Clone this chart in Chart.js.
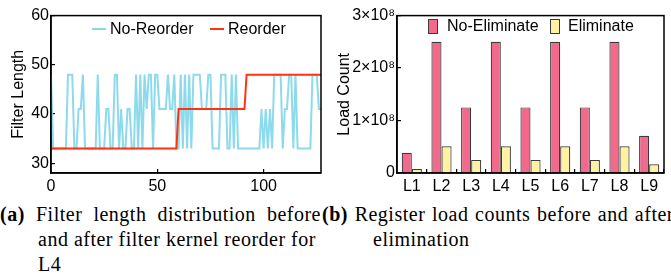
<!DOCTYPE html>
<html><head><meta charset="utf-8">
<script src="https://cdn.jsdelivr.net/npm/chart.js@4/dist/chart.umd.min.js"></script>
<style>
html,body{margin:0;padding:0;background:#fff;}
body{width:671px;height:279px;position:relative;overflow:hidden;font-family:"Liberation Serif","Times New Roman",serif;color:#000;}
#c1{position:absolute;left:0;top:0;}
#c2{position:absolute;left:335px;top:0;}
.cap{position:absolute;font-size:20px;letter-spacing:0.5px;white-space:nowrap;line-height:24px;}
.j{text-align:justify;text-align-last:justify;}
.lg{position:absolute;font-family:"Liberation Sans",Arial,sans-serif;font-size:16px;line-height:18px;white-space:nowrap;color:#000;}
.ln{position:absolute;height:2px;}
.bx{position:absolute;width:8px;height:13px;border:1px solid #3c3c3c;}
</style></head><body>
<canvas id="c1" width="335" height="195"></canvas>
<canvas id="c2" width="336" height="195"></canvas>
<!-- legends -->
<div class="ln" style="left:92px;top:28px;width:14px;background:rgba(128,214,234,0.95);"></div>
<div class="lg" style="left:110px;top:20px;">No-Reorder</div>
<div class="ln" style="left:210px;top:28px;width:14px;background:#FF3311;"></div>
<div class="lg" style="left:228px;top:20px;">Reorder</div>
<div class="bx" style="left:428px;top:19px;background:#F2698B;"></div>
<div class="lg" style="left:447px;top:17px;">No-Eliminate</div>
<div class="bx" style="left:550px;top:19px;background:#FFF2A2;"></div>
<div class="lg" style="left:568px;top:17px;">Eliminate</div>
<!-- captions -->
<div class="cap j" style="left:0;top:202px;width:321px;"><b>(a)</b> Filter length distribution before</div>
<div class="cap" style="left:38px;top:227px;">and after filter kernel reorder for</div>
<div class="cap" style="left:38px;top:252px;">L4</div>
<div class="cap j" style="left:322px;top:202px;width:352px;"><b>(b)</b> Register load counts before and after</div>
<div class="cap" style="left:373px;top:227px;">elimination</div>
<script>
// ---- Left chart data: filter length per kernel index ----
const noReorder = [
  48,33,33,33,33,33,33,33,48,48,
  48,33,33,41,41,48,33,33,33,33,
  33,33,48,33,33,33,41,41,33,33,
  48,48,33,41,33,33,41,41,33,33,
  48,33,48,33,48,41,48,48,33,48,
  48,41,41,41,41,48,41,41,48,33,
  33,48,33,48,33,48,33,48,48,48,
  48,41,41,41,48,48,33,33,33,33,
  48,48,48,33,33,48,33,48,33,33,
  33,33,33,33,33,33,33,33,33,41,
  33,41,33,41,33,48,48,48,48,33,
  41,41,48,48,33,48,33,33,33,33,
  33,33,33,48,48,48,41,41
];
const reorder = [
  33,33,33,33,33,33,33,33,33,33,
  33,33,33,33,33,33,33,33,33,33,
  33,33,33,33,33,33,33,33,33,33,
  33,33,33,33,33,33,33,33,33,33,
  33,33,33,33,33,33,33,33,33,33,
  33,33,33,33,33,33,33,33,33,33,
  41,41,41,41,41,41,41,41,41,41,
  41,41,41,41,41,41,41,41,41,41,
  41,41,41,41,41,41,41,41,41,41,
  41,41,48,48,48,48,48,48,48,48,
  48,48,48,48,48,48,48,48,48,48,
  48,48,48,48,48,48,48,48,48,48,
  48,48,48,48,48,48,48,48
];
const lineXTicks = [0, 50, 100];
const lineYTicks = [30, 40, 50, 60];

// ---- Right chart data: register load counts ----
const layers = ['L1','L2','L3','L4','L5','L6','L7','L8','L9'];
const noEliminate = [3.85e7, 2.5e8, 1.25e8, 2.5e8, 1.25e8, 2.5e8, 1.25e8, 2.5e8, 7.1e7];
const eliminate   = [0.75e7, 5.1e7, 2.5e7, 5.1e7, 2.5e7, 5.1e7, 2.5e7, 5.1e7, 1.65e7];
const barYTicks = [0, 1e8, 2e8, 3e8];
const barYTickLabels = ['0', '1×10⁸', '2×10⁸', '3×10⁸'];

const SANS = '"Liberation Sans", Arial, sans-serif';
const frame = {
  id: 'frame',
  afterDatasetsDraw(chart) {
    const {ctx, chartArea: a} = chart;
    ctx.save();
    ctx.strokeStyle = '#000';
    ctx.lineWidth = 1.5;
    ctx.strokeRect(a.left, a.top, a.right - a.left, a.bottom - a.top);
    ctx.restore();
  }
};

function axisCommon(extra, pad) {
  return Object.assign({
    grid: {drawOnChartArea: false, color: '#000', tickLength: -4, lineWidth: 1.2},
    border: {color: '#000', width: 1.5},
    ticks: {color: '#000', font: {family: SANS, size: 16}, padding: pad, maxRotation: 0, autoSkip: false}
  }, extra);
}

new Chart(document.getElementById('c1'), {
  type: 'line',
  data: {
    datasets: [
      {label: 'No-Reorder', data: noReorder.map((v, i) => ({x: i, y: v})),
       borderColor: 'rgba(128,214,234,0.9)', borderWidth: 2, pointRadius: 0, tension: 0, order: 2},
      {label: 'Reorder', data: reorder.map((v, i) => ({x: i, y: v})),
       borderColor: '#FF3311', borderWidth: 2, pointRadius: 0, tension: 0, order: 1}
    ]
  },
  options: {
    responsive: false, animation: false,
    layout: {padding: {top: 12, right: 14, left: 0, bottom: 0}},
    plugins: {tooltip: {enabled: false}, legend: {display: false}},
    scales: {
      x: axisCommon({
        type: 'linear', min: 0, max: 127,
        afterBuildTicks: s => { s.ticks = lineXTicks.map(v => ({value: v})); },
        afterFit: s => { s.height = 22; }
      }, 8),
      y: axisCommon({
        min: 28, max: 60,
        afterBuildTicks: s => { s.ticks = lineYTicks.map(v => ({value: v})); },
        afterFit: s => { s.width = 51; },
        title: {display: true, text: 'Filter Length', color: '#000', font: {family: SANS, size: 16}, padding: {top: 9, bottom: 0}}
      }, 6)
    }
  },
  plugins: [frame]
});

new Chart(document.getElementById('c2'), {
  type: 'bar',
  data: {
    labels: layers,
    datasets: [
      {label: 'No-Eliminate', data: noEliminate, backgroundColor: '#F2698B', borderColor: '#3c3c3c', borderWidth: 1.2},
      {label: 'Eliminate', data: eliminate, backgroundColor: '#FFF2A2', borderColor: '#3c3c3c', borderWidth: 1.2}
    ]
  },
  options: {
    responsive: false, animation: false,
    layout: {padding: {top: 12, right: 7, left: 0, bottom: 0}},
    datasets: {bar: {categoryPercentage: 0.68, barPercentage: 1}},
    plugins: {tooltip: {enabled: false}, legend: {display: false}},
    scales: {
      x: axisCommon({
        afterFit: s => { s.height = 22; }
      }, 8),
      y: axisCommon({
        min: 0, max: 3e8,
        afterBuildTicks: s => { s.ticks = barYTicks.map(v => ({value: v})); },
        afterFit: s => { s.width = 62; },
        title: {display: true, text: 'Load Count', color: '#000', font: {family: SANS, size: 16}, padding: 0}
      }, 6)
    }
  },
  plugins: [frame]
});
Chart.getChart('c2').options.scales.y.ticks.callback = (v) => barYTickLabels[barYTicks.indexOf(v)] ?? '';
Chart.getChart('c2').update();
</script>
</body></html>
